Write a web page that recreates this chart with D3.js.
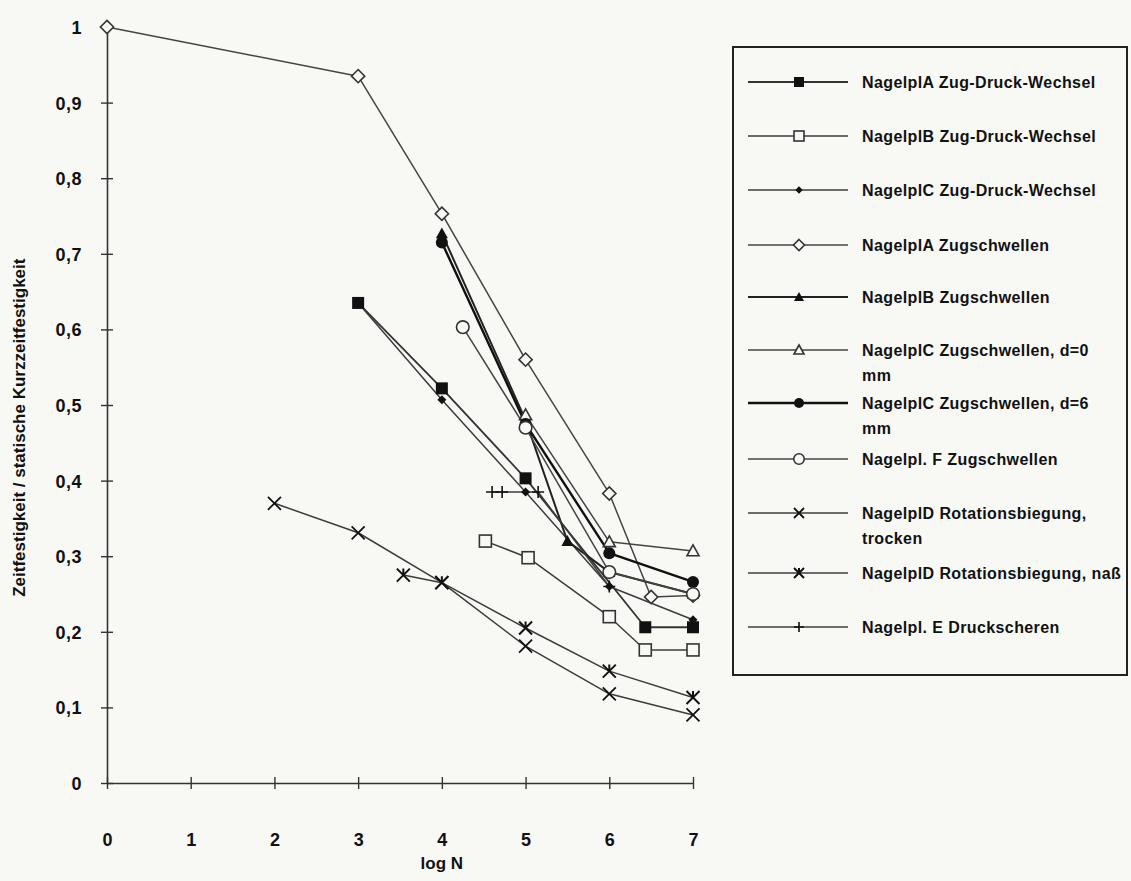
<!DOCTYPE html>
<html>
<head>
<meta charset="utf-8">
<script src="https://cdn.jsdelivr.net/npm/d3@7"></script>
<style>
  html, body { margin: 0; padding: 0; background: #f8f9f5; }
  svg { display: block; }
  text { font-family: "Liberation Sans", Arial, sans-serif; font-weight: bold; fill: #111; }
</style>
</head>
<body>
<svg id="chart" width="1131" height="881"></svg>
<script>
// log N on the x axis, ratio of fatigue strength to static short-term strength on the y axis
const xTicks = [0, 1, 2, 3, 4, 5, 6, 7];
const xTickLabels = ["0", "1", "2", "3", "4", "5", "6", "7"];
const yTicks = [0, 0.1, 0.2, 0.3, 0.4, 0.5, 0.6, 0.7, 0.8, 0.9, 1];
const yTickLabels = ["0", "0,1", "0,2", "0,3", "0,4", "0,5", "0,6", "0,7", "0,8", "0,9", "1"];

const seriesNames = [
  "NagelplA Zug-Druck-Wechsel",
  "NagelplB Zug-Druck-Wechsel",
  "NagelplC Zug-Druck-Wechsel",
  "NagelplA Zugschwellen",
  "NagelplB Zugschwellen",
  "NagelplC Zugschwellen, d=0 mm",
  "NagelplC Zugschwellen, d=6 mm",
  "Nagelpl. F Zugschwellen",
  "NagelplD Rotationsbiegung, trocken",
  "NagelplD Rotationsbiegung, naß",
  "Nagelpl. E Druckscheren"
];

// [log N, ratio] pairs per series
const plA_zdw = [[3, 0.635], [4, 0.522], [5, 0.403], [6.43, 0.206], [7, 0.206]];
const plB_zdw = [[4.52, 0.32], [5.03, 0.298], [6, 0.22], [6.43, 0.176], [7, 0.176]];
const plC_zdw = [[3, 0.635], [4, 0.507], [5, 0.385], [6, 0.26], [7, 0.216]];
const plA_zs = [[0, 1], [3, 0.935], [4, 0.753], [5, 0.56], [6, 0.383], [6.5, 0.246], [7, 0.248]];
const plB_zs = [[4, 0.727], [5, 0.48], [5.5, 0.32], [6, 0.279], [7, 0.25]];
const plC_zs_d0 = [[5, 0.487], [6, 0.319], [7, 0.307]];
const plC_zs_d6 = [[4, 0.715], [5, 0.475], [6, 0.304], [7, 0.266]];
const plF_zs = [[4.25, 0.603], [5, 0.47], [6, 0.279], [7, 0.25]];
const plD_rb_trocken = [[2, 0.37], [3, 0.331], [4, 0.265], [5, 0.181], [6, 0.118], [7, 0.09]];
const plD_rb_nass = [[3.54, 0.275], [4, 0.265], [5, 0.205], [6, 0.148], [7, 0.113]];
const plE_ds = [[4.6, 0.385], [4.72, 0.385], [5.15, 0.385], [6, 0.26]];

const seriesData = [plA_zdw, plB_zdw, plC_zdw, plA_zs, plB_zs, plC_zs_d0, plC_zs_d6, plF_zs, plD_rb_trocken, plD_rb_nass, plE_ds];

// marker kind, line colour and width for each series
const seriesStyle = [
  { marker: "squareFilled", color: "#333", width: 1.8 },
  { marker: "squareOpen", color: "#3c3c3c", width: 1.5 },
  { marker: "diamondSmall", color: "#3c3c3c", width: 1.5 },
  { marker: "diamondOpen", color: "#444", width: 1.5 },
  { marker: "triangleFilled", color: "#222", width: 2.0 },
  { marker: "triangleOpen", color: "#444", width: 1.5 },
  { marker: "circleFilled", color: "#111", width: 2.4 },
  { marker: "circleOpen", color: "#444", width: 1.5 },
  { marker: "cross", color: "#3c3c3c", width: 1.5 },
  { marker: "asterisk", color: "#3c3c3c", width: 1.5 },
  { marker: "plus", color: "#3c3c3c", width: 1.5 }
];

const svg = d3.select("#chart");
const x = d3.scaleLinear().domain([0, 7]).range([107, 693]);
const y = d3.scaleLinear().domain([0, 1]).range([783, 27]);

// axes with ticks crossing the axis line
const yAxis = d3.axisLeft(y).tickValues(yTicks).tickSizeInner(6).tickSizeOuter(0).tickPadding(19)
  .tickFormat((d, i) => yTickLabels[i]);
const gy = svg.append("g").attr("transform", `translate(${x(0)},0)`).call(yAxis);
gy.select(".domain").attr("stroke", "#333").attr("stroke-width", 1.6);
gy.selectAll(".tick line").attr("x1", 6).attr("x2", -6).attr("stroke", "#333").attr("stroke-width", 1.4);
gy.selectAll(".tick text").style("font-size", "18px").style("font-family", "'Liberation Sans', Arial, sans-serif")
  .style("font-weight", "bold").style("letter-spacing", "0.5px").attr("fill", "#111").attr("dy", "0.36em");

const xAxis = d3.axisBottom(x).tickValues(xTicks).tickSizeInner(6).tickSizeOuter(0).tickPadding(44)
  .tickFormat((d, i) => xTickLabels[i]);
const gx = svg.append("g").attr("transform", `translate(0,${y(0)})`).call(xAxis);
gx.select(".domain").attr("stroke", "#333").attr("stroke-width", 1.6);
gx.selectAll(".tick line").attr("y1", -6).attr("y2", 6).attr("stroke", "#333").attr("stroke-width", 1.4);
gx.selectAll(".tick text").style("font-size", "18px").style("font-family", "'Liberation Sans', Arial, sans-serif")
  .style("font-weight", "bold").attr("fill", "#111");

svg.append("text").attr("x", x(4)).attr("y", 869).attr("text-anchor", "middle")
  .style("font-size", "17px").text("log N");

svg.append("text").attr("transform", `translate(25,${y(0.47)}) rotate(-90)`)
  .attr("text-anchor", "middle").style("font-size", "17px").text("Zeitfestigkeit / statische Kurzzeitfestigkeit");

// marker drawing centred on (cx, cy); s = half size
function drawMarker(g, kind, cx, cy, s) {
  const ink = "#111";
  const paper = "#f8f9f5";
  switch (kind) {
    case "squareFilled":
      g.append("rect").attr("x", cx - s).attr("y", cy - s).attr("width", 2 * s).attr("height", 2 * s).attr("fill", ink);
      break;
    case "squareOpen":
      g.append("rect").attr("x", cx - s).attr("y", cy - s).attr("width", 2 * s).attr("height", 2 * s)
        .attr("fill", paper).attr("stroke", "#333").attr("stroke-width", 1.6);
      break;
    case "diamondSmall": {
      const r = s * 0.75;
      g.append("path").attr("d", `M${cx},${cy - r}L${cx + r},${cy}L${cx},${cy + r}L${cx - r},${cy}Z`).attr("fill", ink);
      break;
    }
    case "diamondOpen": {
      const r = s * 1.1;
      g.append("path").attr("d", `M${cx},${cy - r}L${cx + r},${cy}L${cx},${cy + r}L${cx - r},${cy}Z`)
        .attr("fill", paper).attr("stroke", "#333").attr("stroke-width", 1.6);
      break;
    }
    case "triangleFilled":
      g.append("path").attr("d", `M${cx},${cy - s}L${cx + s},${cy + s * 0.8}L${cx - s},${cy + s * 0.8}Z`).attr("fill", ink);
      break;
    case "triangleOpen":
      g.append("path").attr("d", `M${cx},${cy - s}L${cx + s},${cy + s * 0.8}L${cx - s},${cy + s * 0.8}Z`)
        .attr("fill", paper).attr("stroke", "#333").attr("stroke-width", 1.6);
      break;
    case "circleFilled":
      g.append("circle").attr("cx", cx).attr("cy", cy).attr("r", s).attr("fill", ink);
      break;
    case "circleOpen":
      g.append("circle").attr("cx", cx).attr("cy", cy).attr("r", s * 1.05)
        .attr("fill", paper).attr("stroke", "#333").attr("stroke-width", 1.6);
      break;
    case "cross":
      g.append("path").attr("d", `M${cx - s},${cy - s}L${cx + s},${cy + s}M${cx + s},${cy - s}L${cx - s},${cy + s}`)
        .attr("stroke", ink).attr("stroke-width", 1.8);
      break;
    case "asterisk":
      g.append("path").attr("d", `M${cx - s},${cy - s}L${cx + s},${cy + s}M${cx + s},${cy - s}L${cx - s},${cy + s}M${cx},${cy - s}L${cx},${cy + s * 0.2}`)
        .attr("stroke", ink).attr("stroke-width", 2.0);
      break;
    case "plus":
      g.append("path").attr("d", `M${cx - s},${cy}L${cx + s},${cy}M${cx},${cy - s}L${cx},${cy + s}`)
        .attr("stroke", ink).attr("stroke-width", 1.6);
      break;
  }
}

const line = d3.line().x(d => x(d[0])).y(d => y(d[1]));
const plot = svg.append("g");

// lines first, then markers on top
seriesData.forEach((data, i) => {
  plot.append("path").datum(data).attr("d", line).attr("fill", "none")
    .attr("stroke", seriesStyle[i].color).attr("stroke-width", seriesStyle[i].width).attr("stroke-linejoin", "round");
});
seriesData.forEach((data, i) => {
  const g = plot.append("g");
  const k = seriesStyle[i].marker;
  data.forEach(d => drawMarker(g, k, x(d[0]), y(d[1]), k === "cross" || k === "asterisk" ? 6.5 : 6));
});

// legend
const legend = svg.append("g");
legend.append("rect").attr("x", 733).attr("y", 47).attr("width", 394).attr("height", 628)
  .attr("fill", "#f8f9f5").attr("stroke", "#222").attr("stroke-width", 2);

const legendRowY = [82, 136, 190, 245, 297, 350, 403, 459, 513, 573, 627];
seriesNames.forEach((name, i) => {
  const ry = legendRowY[i];
  const g = legend.append("g");
  g.append("line").attr("x1", 748).attr("x2", 848).attr("y1", ry).attr("y2", ry)
    .attr("stroke", seriesStyle[i].color).attr("stroke-width", seriesStyle[i].width);
  drawMarker(g, seriesStyle[i].marker, 799, ry, 5);
  // wrap the longer labels onto a second line
  const parts = name.endsWith(" mm") ? [name.slice(0, -3), "mm"]
    : name.endsWith(", trocken") ? [name.slice(0, -8), "trocken"] : [name];
  const t = g.append("text").attr("x", 862).attr("y", ry + 6).style("font-size", "16px")
    .style("letter-spacing", "0.4px");
  parts.forEach((p, k) => t.append("tspan").attr("x", 862).attr("dy", k === 0 ? 0 : 25).text(p));
});
</script>
</body>
</html>
